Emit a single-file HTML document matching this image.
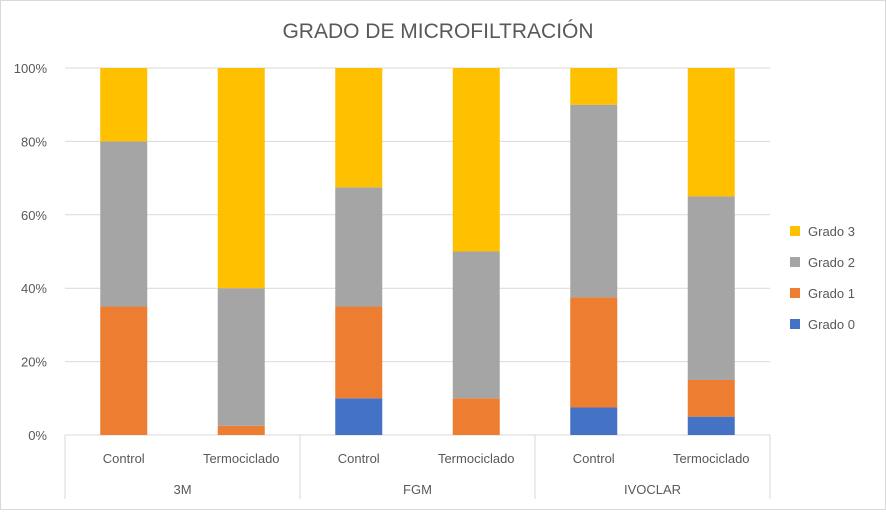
<!DOCTYPE html>
<html><head><meta charset="utf-8"><style>
body{margin:0;background:#fff;}
svg text{font-family:"Liberation Sans",sans-serif;}
</style></head><body>
<svg id="chart" width="886" height="510" xmlns="http://www.w3.org/2000/svg">
<rect x="0.5" y="0.5" width="885" height="509" fill="#fff" stroke="#d9d9d9"/>
<text x="438" y="38" text-anchor="middle" font-size="21" fill="#595959">GRADO DE MICROFILTRACIÓN</text>
<g id="grid"></g><g id="bars"></g><g id="axis"></g><g id="legend"></g>
</svg>
<script>
const groups=["3M","FGM","IVOCLAR"];
const categories=["Control","Termociclado","Control","Termociclado","Control","Termociclado"];
const grado0=[0,0,10,0,7.5,5];
const grado1=[35,2.5,25,10,30,10];
const grado2=[45,37.5,32.5,40,52.5,50];
const grado3=[20,60,32.5,50,10,35];
const yTicks=[0,20,40,60,80,100];
const tickLabels=["0%","20%","40%","60%","80%","100%"];
const seriesNames=["Grado 0","Grado 1","Grado 2","Grado 3"];
const colors=["#4472c4","#ed7d31","#a5a5a5","#ffc000"];
const NS="http://www.w3.org/2000/svg";
const x0=65,x1=770,yb=435,yt=68;
const cw=(x1-x0)/categories.length, bw=47;
const y=v=>yb-(v/100)*(yb-yt);
const xc=i=>x0+cw*(i+0.5);
function mk(t,a,p){const e=document.createElementNS(NS,t);for(const k in a)e.setAttribute(k,a[k]);p.appendChild(e);return e;}
const grid=document.getElementById('grid'),bars=document.getElementById('bars'),axis=document.getElementById('axis'),legend=document.getElementById('legend');
yTicks.forEach((v,i)=>{
 const l=mk('line',{x1:x0,x2:x1,y1:y(v),y2:y(v),stroke:'#d9d9d9','stroke-width':1},grid);
 
 
 const t=mk('text',{x:47,y:y(v)+5,'text-anchor':'end','font-size':13,fill:'#595959'},axis);
 t.textContent=tickLabels[i];
 
 
});
const series=[grado0,grado1,grado2,grado3];
categories.forEach((c,i)=>{
 let acc=0;
 series.forEach((s,k)=>{
  const v=s[i]; if(v<=0){return;}
  const r=mk('rect',{x:xc(i)-bw/2,y:y(acc+v),width:bw,height:y(acc)-y(acc+v),fill:colors[k]},bars);
  
  
  acc+=v;
 });
 const t=mk('text',{x:xc(i),y:463,'text-anchor':'middle','font-size':13,fill:'#595959'},axis);
 t.textContent=c;
 
 
});
for(let g=0;g<=groups.length;g++){
 const xx=x0+g*cw*2;
 const l=mk('line',{x1:xx,x2:xx,y1:yb,y2:499,stroke:'#d9d9d9'},axis);
 
 
}
groups.forEach((g,i)=>{
 const t=mk('text',{x:x0+cw*(2*i+1),y:494,'text-anchor':'middle','font-size':13,fill:'#595959'},axis);
 t.textContent=g;
 
 
});
for(let k=3;k>=0;k--){
 const yy=231+(3-k)*31;
 const r=mk('rect',{x:790,y:yy-5,width:10,height:10,fill:colors[k]},legend);
 
 
 const t=mk('text',{x:808,y:yy+5,'font-size':13,fill:'#595959'},legend);
 t.textContent=seriesNames[k];
 
 
}
</script>
</body></html>
